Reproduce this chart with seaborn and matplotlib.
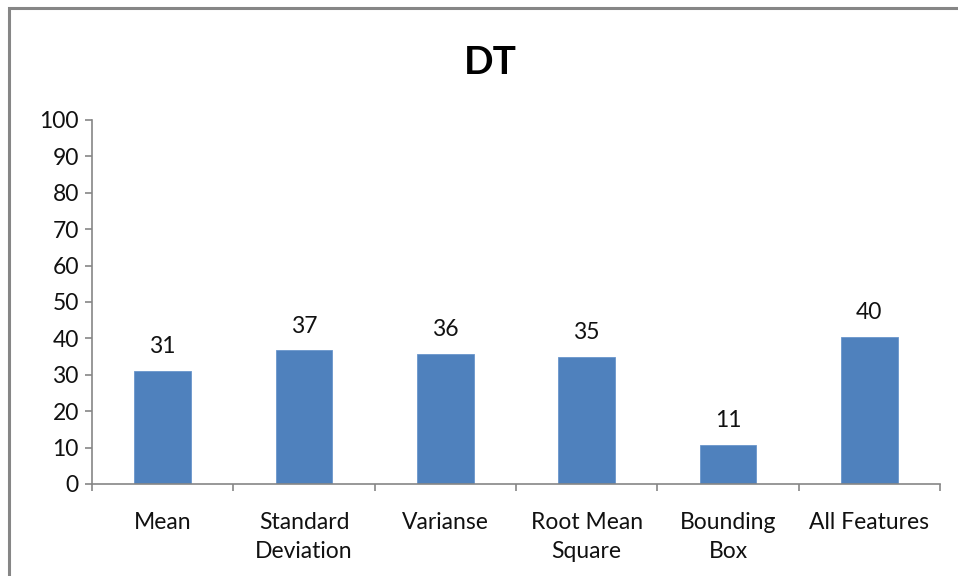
import matplotlib
matplotlib.use("Agg")
import matplotlib.pyplot as plt
import matplotlib.patches as mpatches
from matplotlib.ticker import MultipleLocator, FixedLocator
import seaborn as sns
import pandas as pd

categories = ["Mean", "Standard\nDeviation", "Varianse", "Root Mean\nSquare", "Bounding\nBox", "All Features"]
scores = [31.0, 36.7, 35.7, 34.9, 10.7, 40.3]
title = "DT"

sns.set_theme(style="white")
plt.rcParams["font.family"] = ["Lato", "DejaVu Sans"]

df = pd.DataFrame({"feature": categories, "score": scores})

fig = plt.figure(figsize=(9.58, 5.76), dpi=100)
ax = fig.add_axes([92 / 958, 1 - 484 / 576, (940 - 92) / 958, (484 - 120) / 576])

sns.barplot(data=df, x="feature", y="score", color="#4F81BD", saturation=1,
            width=0.4, ax=ax, edgecolor="#6A96CC", linewidth=0.6)

fs = 16.5
for patch, v in zip(ax.patches, scores):
    ax.annotate(f"{v:.0f}", (patch.get_x() + patch.get_width() / 2, v),
                xytext=(0, 10), textcoords="offset points",
                ha="center", va="bottom", fontsize=fs, color="#111111")

ax.set_ylim(0, 100)
ax.set_xlim(-0.5, len(categories) - 0.5)
ax.yaxis.set_major_locator(MultipleLocator(10))
ax.set_xlabel("")
ax.set_ylabel("")

grey = "#868686"
for side in ["top", "right"]:
    ax.spines[side].set_visible(False)
for side in ["left", "bottom"]:
    ax.spines[side].set_color(grey)
    ax.spines[side].set_linewidth(1.2)

ax.tick_params(axis="y", which="major", direction="out", length=5, width=1.2,
               color=grey, labelsize=fs, labelcolor="#111111", pad=4.5, left=True)
ax.tick_params(axis="x", which="major", length=0, labelsize=fs,
               labelcolor="#111111", pad=20)
ax.xaxis.set_minor_locator(FixedLocator([i - 0.5 for i in range(len(categories) + 1)]))
ax.tick_params(axis="x", which="minor", direction="out", length=5, width=1.2,
               color=grey, bottom=True)
for lbl in ax.get_xticklabels():
    lbl.set_linespacing(1.5)
    lbl.set_va("top")

fig.text(490 / 958, 1 - 62 / 576, title, ha="center", va="center",
         fontsize=28, fontweight="bold", color="#000000")

# chart-area frame
frame = mpatches.Rectangle((8.5 / 958, -0.1), 1.2, 1 - 7.5 / 576 + 0.1,
                           transform=fig.transFigure, fill=False,
                           edgecolor=grey, linewidth=2.2, clip_on=False)
fig.patches.append(frame)

fig.savefig("out.png", dpi=100)
